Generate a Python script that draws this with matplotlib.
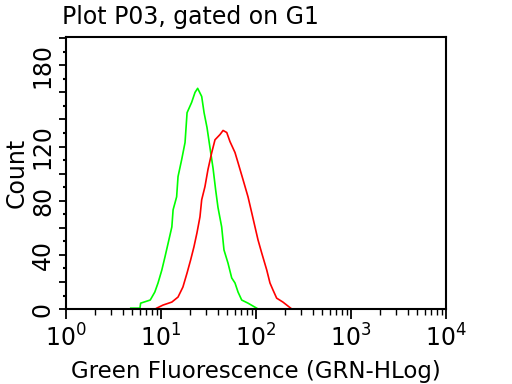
import matplotlib
matplotlib.use("Agg")
import matplotlib.pyplot as plt
import numpy as np

# green histogram (control)
green_x = [4.8, 6.0, 6.1, 7.7, 8.6, 9.3, 10.2, 11.0, 11.9, 13.0, 13.4, 14.6, 15.1,
           16.5, 17.9, 18.8, 21.0, 22.8, 24.3, 26.8, 28.4, 30.5, 32.8, 35.3, 37.6,
           39.8, 43.5, 46.0, 50.7, 55.5, 60.1, 64.7, 70.7, 82.4, 101.7]
green_y = [0.7, 0.7, 4.4, 6.7, 12.6, 19.3, 28.9, 38.5, 48.9, 60.7, 73.3, 82.9, 97.8,
           110.4, 123, 145, 152.6, 160, 163, 157, 145, 134, 119, 104, 88,
           75, 60.7, 43.7, 34, 23, 19.3, 12.6, 6.7, 4.4, 0.7]

# red histogram (stained)
red_x = [9.0, 10.5, 13.0, 15.1, 17.0, 18.8, 20.5, 22.2, 23.9, 25.7, 26.8, 29.0,
         31.2, 34.2, 37.0, 41.8, 45.0, 49.2, 53.2, 60.1, 64.7, 73.0, 82.4, 90.2,
         97.6, 105, 114.8, 129.7, 140.3, 151, 165, 192, 232]
red_y = [0.7, 3, 5.2, 8.9, 16.3, 26.7, 36.3, 45.9, 56.3, 68.1, 80.7, 90.4,
         103, 115.6, 125, 128.9, 131.9, 130.4, 123.7, 115.6, 108.1, 95.6, 82.9, 71.1,
         60.7, 51.1, 41.5, 28.9, 19.3, 14.1, 8.1, 5.2, 0.7]

y_labels = {0: "0", 40: "40", 80: "80", 120: "120", 180: "180"}

fig = plt.figure(figsize=(5.12, 3.84), dpi=100)
ax = fig.add_axes([0.129, 0.195, 0.742, 0.709])

ax.plot(green_x, green_y, color="#00ff00", lw=1.2)
ax.plot(red_x, red_y, color="#ff0000", lw=1.2)

ax.set_xscale("log")
ax.set_xlim(1, 1e4)
ax.set_ylim(0, 201)

ax.set_yticks(np.arange(0, 201, 20))
ax.set_yticklabels([y_labels.get(v, "") for v in range(0, 201, 20)],
                   rotation=90, va="center", fontsize=17)
ax.set_yticks(np.arange(10, 201, 20), minor=True)
ax.tick_params(axis="y", which="major", length=5, width=1.3, pad=3)
ax.tick_params(axis="y", which="minor", length=2, width=1.5)

ax.tick_params(axis="x", which="major", length=7, width=1.3, labelsize=17, pad=4)
ax.tick_params(axis="x", which="minor", length=4, width=1.0)

for s in ax.spines.values():
    s.set_linewidth(1.5)

ax.set_xlabel("Green Fluorescence (GRN-HLog)", fontsize=16.5, labelpad=6)
ax.set_ylabel("Count", fontsize=17, labelpad=2)
fig.text(0.121, 0.955, "Plot P03, gated on G1", fontsize=17, ha="left", va="center")

fig.savefig("out.png", dpi=100)
